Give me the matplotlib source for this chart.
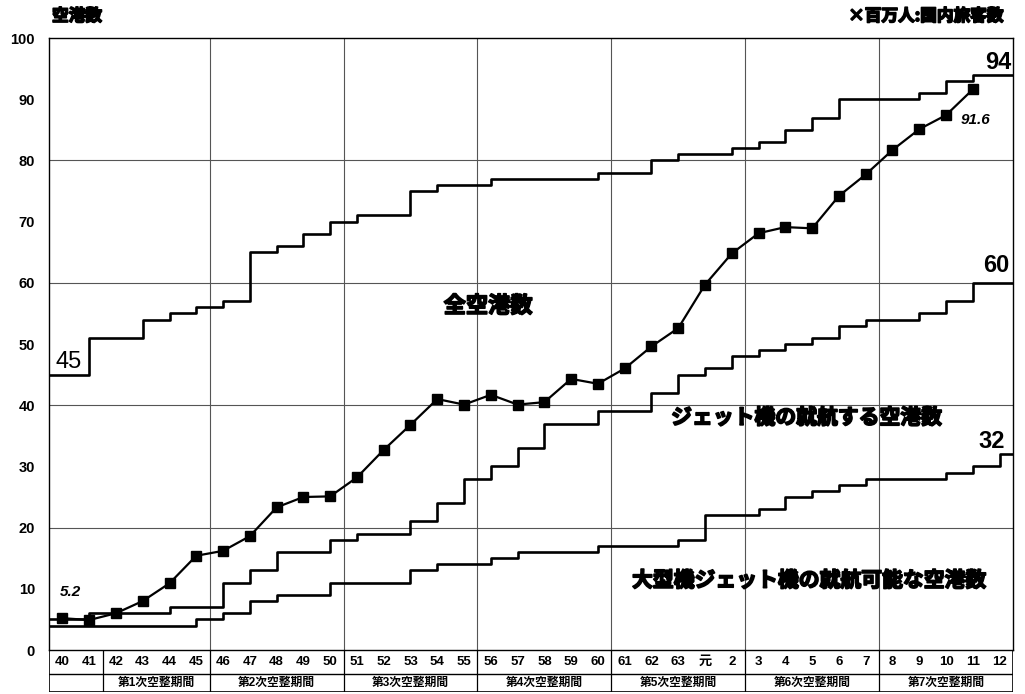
import numpy as np
import matplotlib
matplotlib.use('Agg')
import matplotlib.pyplot as plt
import matplotlib.patheffects as pe

plt.rcParams['font.family'] = ['Liberation Sans', 'Noto Sans CJK JP', 'DejaVu Sans']

# -------------------------------
# Data
# -------------------------------
years = ['40', '41', '42', '43', '44', '45', '46', '47', '48', '49', '50',
         '51', '52', '53', '54', '55', '56', '57', '58', '59', '60',
         '61', '62', '63', '元', '2', '3', '4', '5', '6', '7',
         '8', '9', '10', '11', '12']

total_airports = [45, 51, 51, 54, 55, 56, 57, 65, 66, 68, 70,
                  71, 71, 75, 76, 76, 77, 77, 77, 77, 78,
                  78, 80, 81, 81, 82, 83, 85, 87, 90, 90,
                  90, 91, 93, 94, 94]

jet_airports = [5, 6, 6, 6, 7, 7, 11, 13, 16, 16, 18,
                19, 19, 21, 24, 28, 30, 33, 37, 37, 39,
                39, 42, 45, 46, 48, 49, 50, 51, 53, 54,
                54, 55, 57, 60, 60]

large_jet_airports = [4, 4, 4, 4, 4, 5, 6, 8, 9, 9, 11,
                      11, 11, 13, 14, 14, 15, 16, 16, 16, 17,
                      17, 17, 18, 22, 22, 23, 25, 26, 27, 28,
                      28, 28, 29, 30, 32]

# domestic passengers (millions), up to H11
passengers = [5.2, 4.9, 6.0, 8.0, 10.9, 15.4, 16.2, 18.6, 23.3, 25.0, 25.1,
              28.2, 32.7, 36.8, 41.0, 40.1, 41.7, 40.1, 40.5, 44.3, 43.5,
              46.0, 49.6, 52.6, 59.7, 64.8, 68.1, 69.1, 68.9, 74.2, 77.7,
              81.7, 85.1, 87.4, 91.6]

period_labels = ['', '第1次空整期間', '第2次空整期間', '第3次空整期間',
                 '第4次空整期間', '第5次空整期間', '第6次空整期間', '第7次空整期間']
period_years = [2, 4, 5, 5, 5, 5, 5, 5]

n = len(years)
centers = np.arange(n) + 0.5
bounds = np.cumsum(period_years)


def step_xy(values):
    # steps change at the column centres, line runs edge to edge
    x = np.concatenate([[0], centers, [n]])
    y = np.concatenate([[values[0]], values, [values[-1]]])
    return x, y


fig = plt.figure(figsize=(10.25, 6.94), dpi=100)
ax = fig.add_axes([49 / 1025, 1 - 650 / 694, 964 / 1025, 612 / 694])

# -------------------------------
# Grid
# -------------------------------
for yv in [20, 40, 60, 80]:
    ax.axhline(yv, color='#555555', lw=0.8, zorder=1)
for b in bounds[1:-1]:
    ax.axvline(b, color='#555555', lw=0.8, zorder=1)

# -------------------------------
# Step lines
# -------------------------------
for series in [total_airports, jet_airports, large_jet_airports]:
    sx, sy = step_xy(series)
    ax.step(sx, sy, where='post', color='black', lw=1.9, zorder=3)

# passengers
ax.plot(centers[:len(passengers)], passengers, color='black', lw=1.6,
        marker='s', markersize=7, zorder=4)

ax.set_xlim(0, n)
ax.set_ylim(0, 100)
ax.set_xticks([])
ax.set_yticks(range(0, 101, 10))
ax.tick_params(axis='y', length=0, pad=10, labelsize=10.5)
for lab in ax.get_yticklabels():
    lab.set_fontweight('bold')
for sp in ax.spines.values():
    sp.set_linewidth(1.0)

# -------------------------------
# Labels
# -------------------------------
ax.text(0.75, 47, '45', fontsize=17, ha='center', va='center')
ax.text(35.95, 96.0, '94', fontsize=17, fontweight='bold', ha='right', va='center')
ax.text(35.85, 62.9, '60', fontsize=17, fontweight='bold', ha='right', va='center')
ax.text(35.7, 34.0, '32', fontsize=17, fontweight='bold', ha='right', va='center')
ax.text(0.8, 9.5, '5.2', fontsize=11, fontweight='bold', style='italic',
        ha='center', va='center')
ax.text(34.6, 86.6, '91.6', fontsize=11, fontweight='bold', style='italic',
        ha='center', va='center')

# heavy gothic look for the japanese captions
jp = ['Noto Sans CJK JP', 'DejaVu Sans']
heavy = [pe.withStroke(linewidth=1.2, foreground='black')]
ax.text(16.4, 56.2, '全空港数', fontsize=16, fontweight='bold', family=jp,
        ha='center', va='center', path_effects=heavy)
ax.text(28.3, 38.0, 'ジェット機の就航する空港数', fontsize=15, fontweight='bold',
        family=jp, ha='center', va='center', path_effects=heavy)
ax.text(28.4, 11.4, '大型機ジェット機の就航可能な空港数', fontsize=15,
        fontweight='bold', family=jp, ha='center', va='center', path_effects=heavy)

fig.text(52 / 1025, 1 - 16 / 694, '空港数', fontsize=12, fontweight='bold',
         family=jp, ha='left', va='center', path_effects=heavy)
fig.text(1003 / 1025, 1 - 16 / 694, '×百万人:国内旅客数', fontsize=12,
         fontweight='bold', family=jp, ha='right', va='center', path_effects=heavy)

# -------------------------------
# Year / period table under the axis
# -------------------------------
tax = fig.add_axes([49 / 1025, 1 - 692 / 694, 964 / 1025, 42 / 694])
tax.set_xlim(0, n)
tax.set_ylim(0, 1)
tax.axis('off')
row_div = 18 / 42
tax.plot([0, n], [row_div, row_div], color='black', lw=1.0)
tax.plot([0, n], [0, 0], color='black', lw=1.2)
tax.plot([0, 0], [0, 1], color='black', lw=1.2)
tax.plot([n, n], [0, 1], color='black', lw=1.2)
for b in bounds[:-1]:
    tax.plot([b, b], [0, 1], color='black', lw=0.9)

for c, y in zip(centers, years):
    tax.text(c, (1 + row_div) / 2, y, fontsize=9.5, fontweight='bold',
             ha='center', va='center')

starts = np.concatenate([[0], bounds[:-1]])
for s, e, lab in zip(starts, bounds, period_labels):
    tax.text((s + e) / 2, row_div / 2, lab, fontsize=8.5, fontweight='bold',
             family=['Liberation Sans', 'Noto Sans CJK JP'],
             ha='center', va='center')

fig.savefig('out.png', dpi=100)
